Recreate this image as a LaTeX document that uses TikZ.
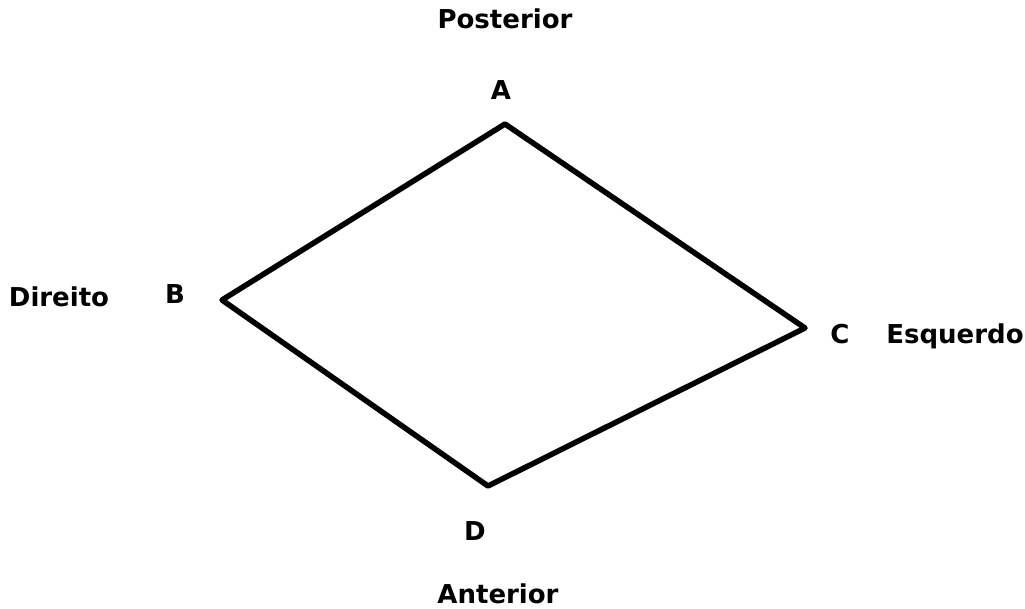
\documentclass[tikz,border=0pt]{standalone}
\usepackage{fontspec}
\setmainfont{DejaVu Sans}
\begin{document}
\begin{tikzpicture}[x=1pt,y=-1pt,
  lbl/.style={font=\fontsize{26}{26}\selectfont\bfseries, anchor=base, inner sep=0pt},
  edge/.style={line width=5.5pt, line join=round}]
\useasboundingbox (0,0) rectangle (1025,608);
\coordinate (A) at (505,124);
\coordinate (B) at (222,300);
\coordinate (C) at (805,328);
\coordinate (D) at (488,486);
\draw[edge] (A) -- (B) -- (D) -- (C) -- cycle;
\node[lbl] (post) at (505,28) {Posterior};
\node[lbl] (la) at (501,99) {A};
\node[lbl] (lb) at (175,303) {B};
\node[lbl] (dir) at (59,306) {Direito};
\node[lbl] (lc) at (840,343) {C};
\node[lbl] (esq) at (955,343) {Esquerdo};
\node[lbl] (ld) at (475,540) {D};
\node[lbl] (ant) at (498,603) {Anterior};
\end{tikzpicture}
\end{document}
